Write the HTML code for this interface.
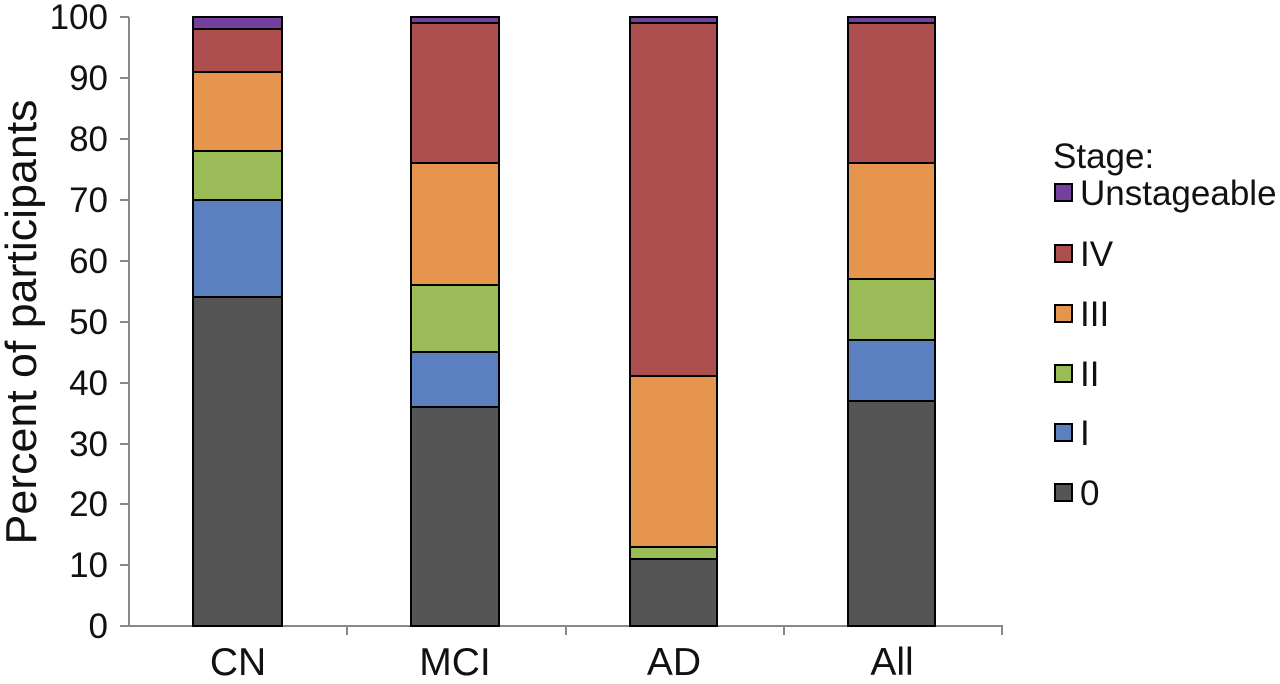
<!DOCTYPE html><html><head><style>body{margin:0;background:#fff}svg text{font-family:"Liberation Sans",Arial,sans-serif;fill:#111}</style></head><body>
<svg width="1280" height="679" xmlns="http://www.w3.org/2000/svg">
<g stroke="#888" stroke-width="2" fill="none">
<line x1="129" y1="17" x2="129" y2="627"/><line x1="129" y1="626" x2="1003" y2="626"/>
<line x1="120" y1="17" x2="129" y2="17"/><line x1="120" y1="78" x2="129" y2="78"/><line x1="120" y1="139" x2="129" y2="139"/><line x1="120" y1="200" x2="129" y2="200"/><line x1="120" y1="261" x2="129" y2="261"/><line x1="120" y1="322" x2="129" y2="322"/><line x1="120" y1="383" x2="129" y2="383"/><line x1="120" y1="444" x2="129" y2="444"/><line x1="120" y1="504" x2="129" y2="504"/><line x1="120" y1="565" x2="129" y2="565"/><line x1="120" y1="626" x2="129" y2="626"/>
<line x1="347" y1="626" x2="347" y2="635"/><line x1="566" y1="626" x2="566" y2="635"/><line x1="784" y1="626" x2="784" y2="635"/><line x1="1002" y1="626" x2="1002" y2="635"/>
</g>
<g font-size="35" text-anchor="end">
<text x="108" y="29">100</text><text x="108" y="90">90</text><text x="108" y="151">80</text><text x="108" y="212">70</text><text x="108" y="273">60</text><text x="108" y="334">50</text><text x="108" y="395">40</text><text x="108" y="456">30</text><text x="108" y="516">20</text><text x="108" y="577">10</text><text x="108" y="638">0</text>
</g>
<text transform="translate(36,322) rotate(-90)" font-size="44" text-anchor="middle" textLength="445" lengthAdjust="spacingAndGlyphs">Percent of participants</text>
<g font-size="39" text-anchor="middle"><text x="238" y="675">CN</text><text x="455" y="675">MCI</text><text x="674" y="675">AD</text><text x="892" y="675">All</text></g>
<g stroke="#000" stroke-width="2">
<rect x="193" y="297" width="89" height="329" fill="#555"/>
<rect x="193" y="200" width="89" height="97" fill="#5b80c0"/>
<rect x="193" y="151" width="89" height="49" fill="#9bbb59"/>
<rect x="193" y="72" width="89" height="79" fill="#e6954e"/>
<rect x="193" y="29" width="89" height="43" fill="#ad4f4e"/>
<rect x="193" y="17" width="89" height="12" fill="#7340a0"/>
<rect x="411" y="407" width="88" height="219" fill="#555"/>
<rect x="411" y="352" width="88" height="55" fill="#5b80c0"/>
<rect x="411" y="285" width="88" height="67" fill="#9bbb59"/>
<rect x="411" y="163" width="88" height="122" fill="#e6954e"/>
<rect x="411" y="23" width="88" height="140" fill="#ad4f4e"/>
<rect x="411" y="17" width="88" height="6" fill="#7340a0"/>
<rect x="630" y="559" width="87" height="67" fill="#555"/>
<rect x="630" y="547" width="87" height="12" fill="#9bbb59"/>
<rect x="630" y="376" width="87" height="171" fill="#e6954e"/>
<rect x="630" y="23" width="87" height="353" fill="#ad4f4e"/>
<rect x="630" y="17" width="87" height="6" fill="#7340a0"/>
<rect x="848" y="401" width="87" height="225" fill="#555"/>
<rect x="848" y="340" width="87" height="61" fill="#5b80c0"/>
<rect x="848" y="279" width="87" height="61" fill="#9bbb59"/>
<rect x="848" y="163" width="87" height="116" fill="#e6954e"/>
<rect x="848" y="23" width="87" height="140" fill="#ad4f4e"/>
<rect x="848" y="17" width="87" height="6" fill="#7340a0"/>
</g>
<text x="1053" y="168" font-size="35">Stage:</text>
<g stroke="#000" stroke-width="2">
<rect x="1055" y="184" width="17" height="17" fill="#7340a0"/>
<rect x="1055" y="245" width="17" height="17" fill="#ad4f4e"/>
<rect x="1055" y="305" width="17" height="17" fill="#e6954e"/>
<rect x="1055" y="365" width="17" height="17" fill="#9bbb59"/>
<rect x="1055" y="424" width="17" height="17" fill="#5b80c0"/>
<rect x="1055" y="484" width="17" height="17" fill="#555"/>
</g>
<g font-size="35">
<text x="1080" y="205">Unstageable</text><text x="1080" y="266">IV</text><text x="1080" y="326">III</text><text x="1080" y="386">II</text><text x="1080" y="445">I</text><text x="1080" y="505">0</text>
</g>
</svg></body></html>
